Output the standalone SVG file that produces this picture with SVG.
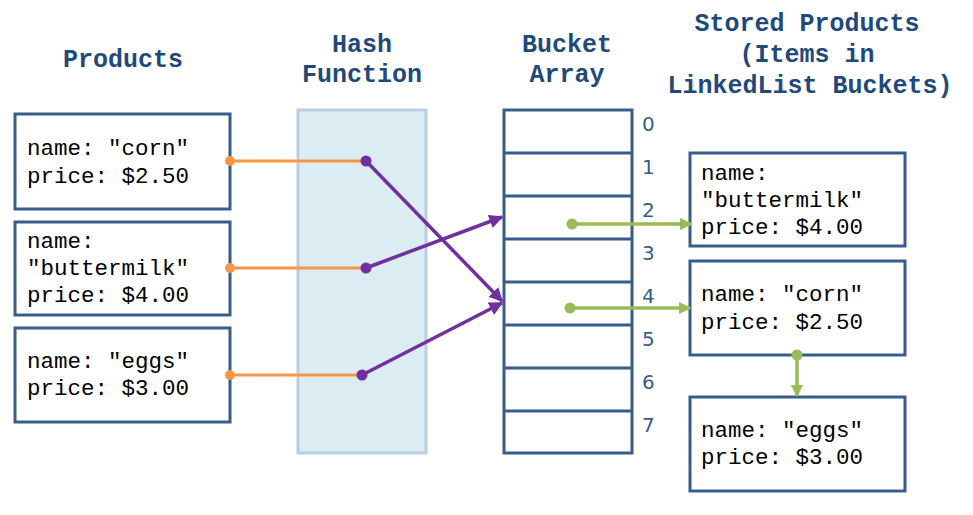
<svg xmlns="http://www.w3.org/2000/svg" width="973" height="515" viewBox="0 0 973 515">
<style>
.title{font-family:"Liberation Mono","Courier New",monospace;font-weight:bold;font-size:25px;fill:#1F497D;text-anchor:middle}
.box{fill:#fff;stroke:#385D8A;stroke-width:3}
.txt{font-family:"Liberation Mono","Courier New",monospace;font-size:22.5px;fill:#000}
.idx{font-family:"DejaVu Sans","Liberation Sans",sans-serif;font-size:20px;fill:#385D8A}
.or{stroke:#F79646;stroke-width:3;fill:none}
.pu{stroke:#7030A0;stroke-width:3.5;fill:none}
.gr{stroke:#9BBB59;stroke-width:3.5;fill:none}
</style>
<defs>
<marker id="ap" viewBox="0 0 10 10" refX="9" refY="5" markerWidth="4" markerHeight="4" orient="auto" markerUnits="strokeWidth"><path d="M0,0 L10,5 L0,10 z" fill="#7030A0"/></marker>
<marker id="ag" viewBox="0 0 10 10" refX="9" refY="5" markerWidth="3.6" markerHeight="3.6" orient="auto" markerUnits="strokeWidth"><path d="M0,0 L10,5 L0,10 z" fill="#9BBB59"/></marker>
</defs>
<rect width="973" height="515" fill="#fff"/>
<text class="title" x="123" y="67">Products</text>
<text class="title" x="362" y="52">Hash</text>
<text class="title" x="362" y="82">Function</text>
<text class="title" x="567" y="52">Bucket</text>
<text class="title" x="567" y="82">Array</text>
<text class="title" x="807" y="31">Stored Products</text>
<text class="title" x="807" y="62">(Items in</text>
<text class="title" x="810" y="93">LinkedList Buckets)</text>
<g id="hash"><rect x="298" y="110" width="128" height="343" fill="#DBECF3" stroke="#B9CDE5" stroke-width="3"/></g>
<g id="p1"><rect class="box" x="15" y="114" width="215" height="95"/><text class="txt" x="27" y="155">name: "corn"</text><text class="txt" x="27" y="183">price: $2.50</text></g>
<g id="p2"><rect class="box" x="15" y="222" width="215" height="93"/><text class="txt" x="27" y="248">name:</text><text class="txt" x="27" y="275">"buttermilk"</text><text class="txt" x="27" y="302">price: $4.00</text></g>
<g id="p3"><rect class="box" x="15" y="328" width="215" height="94"/><text class="txt" x="27" y="368">name: "eggs"</text><text class="txt" x="27" y="395">price: $3.00</text></g>
<g id="buckets">
<rect class="box" x="504" y="110" width="128" height="343"/>
<path d="M504 153H632M504 196H632M504 239H632M504 282H632M504 325H632M504 368H632M504 411H632" stroke="#385D8A" stroke-width="3"/>
<text class="idx" x="642" y="131">0</text><text class="idx" x="642" y="174">1</text><text class="idx" x="642" y="217">2</text><text class="idx" x="642" y="260">3</text><text class="idx" x="642" y="303">4</text><text class="idx" x="642" y="346">5</text><text class="idx" x="642" y="389">6</text><text class="idx" x="642" y="432">7</text>
</g>
<g id="s1"><rect class="box" x="690" y="153" width="215" height="93"/><text class="txt" x="701" y="180">name:</text><text class="txt" x="701" y="207">"buttermilk"</text><text class="txt" x="701" y="234">price: $4.00</text></g>
<g id="s2"><rect class="box" x="690" y="261" width="215" height="94"/><text class="txt" x="701" y="301">name: "corn"</text><text class="txt" x="701" y="329">price: $2.50</text></g>
<g id="s3"><rect class="box" x="690" y="397" width="215" height="94"/><text class="txt" x="701" y="437">name: "eggs"</text><text class="txt" x="701" y="464">price: $3.00</text></g>
<g id="connectors">
<line class="or" x1="230" y1="161" x2="366" y2="161"/>
<line class="or" x1="230" y1="268" x2="366" y2="268"/>
<line class="or" x1="230" y1="375" x2="362" y2="375"/>
<circle cx="230" cy="161" r="5" fill="#F79646"/><circle cx="230" cy="268" r="5" fill="#F79646"/><circle cx="230" cy="375" r="5" fill="#F79646"/>
<line class="pu" x1="366" y1="161" x2="502" y2="301" marker-end="url(#ap)"/>
<line class="pu" x1="366" y1="268" x2="502" y2="217" marker-end="url(#ap)"/>
<line class="pu" x1="362" y1="375" x2="502" y2="303" marker-end="url(#ap)"/>
<circle cx="366" cy="161" r="5.5" fill="#7030A0"/><circle cx="366" cy="268" r="5.5" fill="#7030A0"/><circle cx="362" cy="375" r="5.5" fill="#7030A0"/>
<line class="gr" x1="572" y1="224" x2="691" y2="224" marker-end="url(#ag)"/>
<line class="gr" x1="570" y1="308" x2="690" y2="308" marker-end="url(#ag)"/>
<line class="gr" x1="797" y1="355" x2="797" y2="396" marker-end="url(#ag)"/>
<circle cx="572" cy="224" r="5.5" fill="#9BBB59"/><circle cx="570" cy="308" r="5.5" fill="#9BBB59"/><circle cx="797" cy="355" r="5.5" fill="#9BBB59"/>
</g>
</svg>
